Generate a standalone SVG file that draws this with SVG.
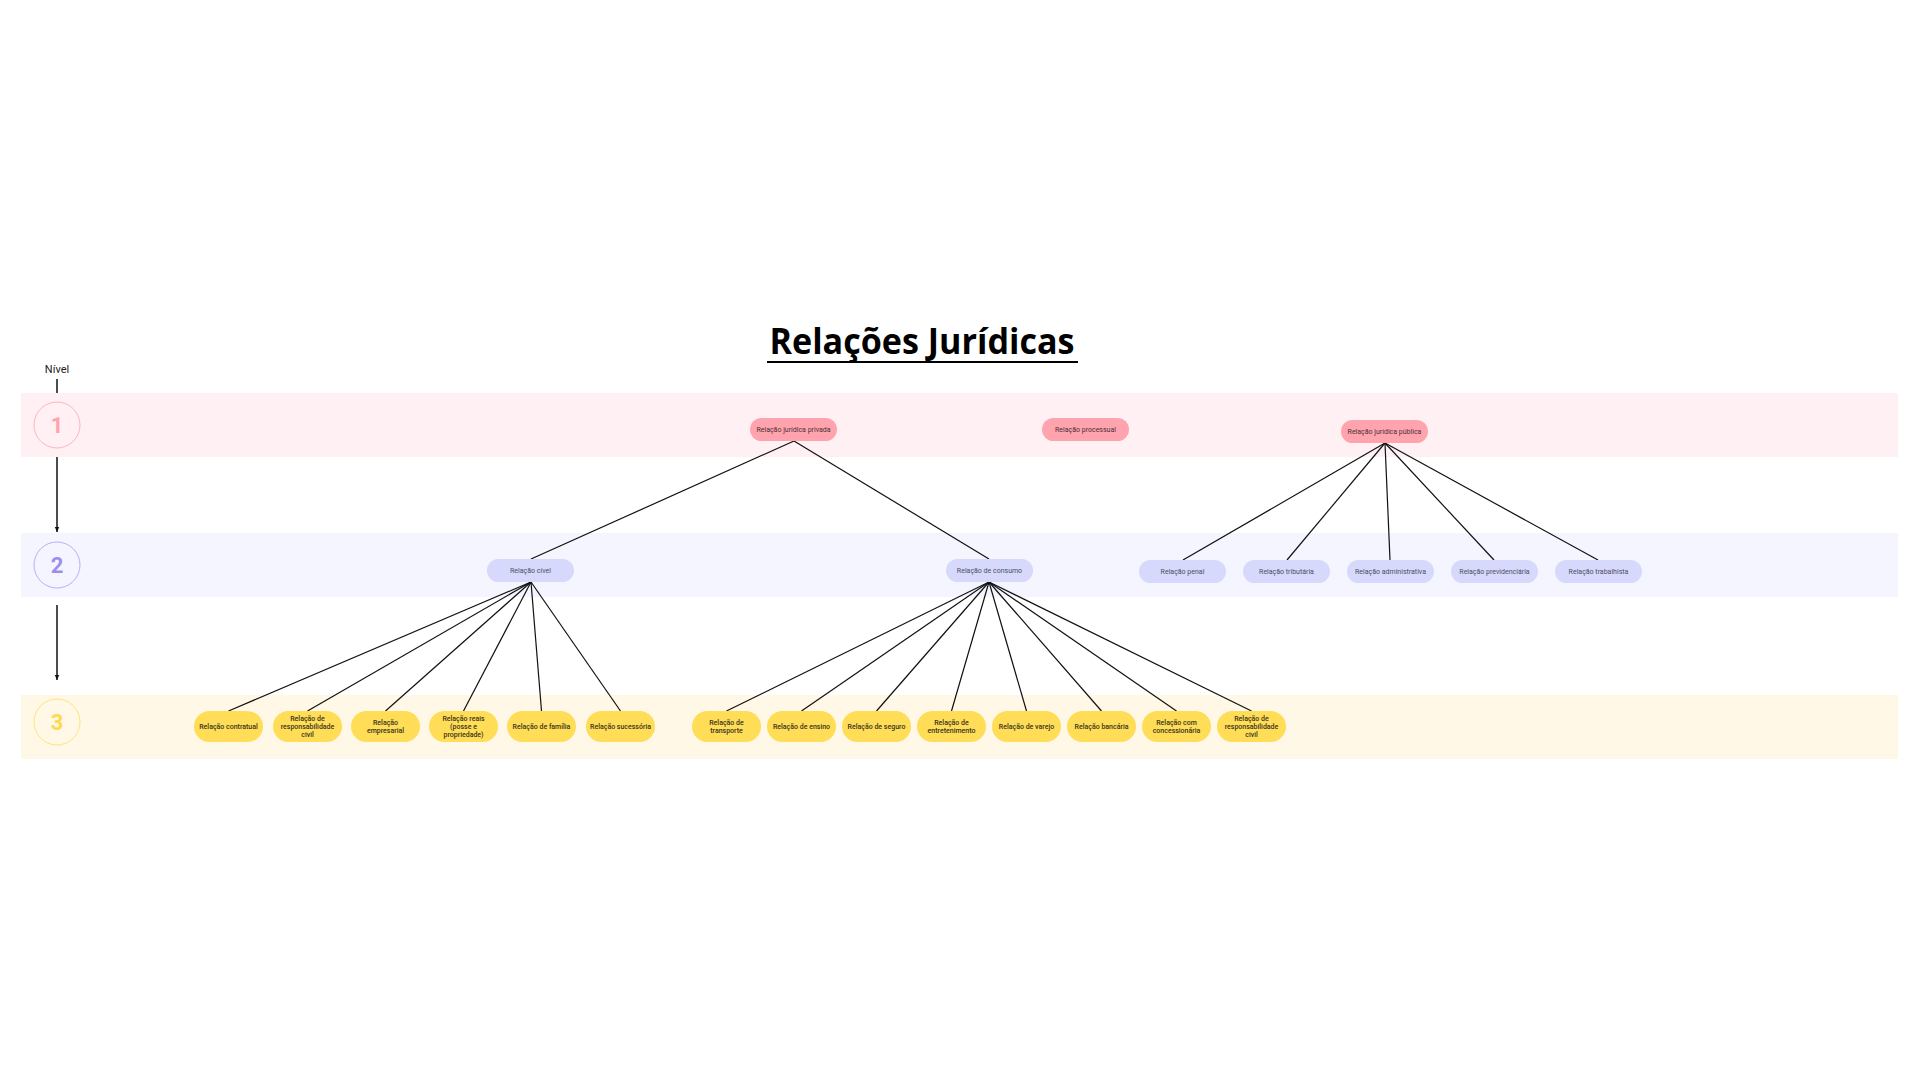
<svg xmlns="http://www.w3.org/2000/svg" width="1920" height="1080" viewBox="0 0 1920 1080">
<defs>
<style>
.band1{fill:#FFF0F3}.band2{fill:#F5F5FF}.band3{fill:#FFF8E6}
.n1 rect{fill:#FFA4AE}.n2 rect{fill:#D6D9FC}.n3 rect{fill:#FFDD57}
.n1 text,.n2 text,.n3 text{font-family:Roboto,"Liberation Sans",sans-serif;font-size:7px;text-anchor:middle}
.n1 text{fill:#4a3034}.n2 text{fill:#4e4e60}.n3 text{fill:#3a331c;font-weight:500}
.num{font-family:Roboto,"Liberation Sans",sans-serif;font-size:22px;font-weight:700;text-anchor:middle}
.conn line{stroke:#111;stroke-width:1.2;fill:none}
.axis{stroke:#111;stroke-width:1.5}
</style>
<marker id="arr" viewBox="0 0 10 10" refX="9" refY="5" markerWidth="4" markerHeight="4" orient="auto" markerUnits="strokeWidth">
<path d="M0,1 L9,5 L0,9 Z" fill="#111"/>
</marker>
</defs>
<rect width="1920" height="1080" fill="#ffffff"/>

<g id="title">
<text x="922" y="354" font-family="'Open Sans','Noto Sans',sans-serif" font-size="36" font-weight="700" text-anchor="middle" fill="#000" textLength="305" lengthAdjust="spacingAndGlyphs">Relações Jurídicas</text>
<line x1="767" y1="362" x2="1078" y2="362" stroke="#000" stroke-width="2"/>
</g>

<g id="bands">
<rect class="band1" x="21" y="393" width="1877" height="64"/>
<rect class="band2" x="21" y="533" width="1877" height="64"/>
<rect class="band3" x="21" y="695" width="1877" height="64"/>
</g>

<g id="levels">
<text x="57" y="373" font-family="Roboto,'Liberation Sans',sans-serif" font-size="11" text-anchor="middle" fill="#222">Nível</text>
<line class="axis" x1="57" y1="379" x2="57" y2="393"/>
<g id="level1">
<circle cx="57" cy="425" r="23" fill="none" stroke="#FFB3BD" stroke-width="1"/>
<text class="num" x="57" y="433" fill="#FFA3AE">1</text>
</g>
<line class="axis" x1="57" y1="457" x2="57" y2="532" marker-end="url(#arr)"/>
<g id="level2">
<circle cx="57" cy="565" r="23" fill="none" stroke="#B8AEF8" stroke-width="1"/>
<text class="num" x="57" y="573" fill="#9D8DF1">2</text>
</g>
<line class="axis" x1="57" y1="605" x2="57" y2="680" marker-end="url(#arr)"/>
<g id="level3">
<circle cx="57" cy="722" r="23" fill="none" stroke="#FFE37A" stroke-width="1"/>
<text class="num" x="57" y="730" fill="#FFD84D">3</text>
</g>
</g>

<g id="connectors" class="conn">
<line x1="794" y1="441" x2="531" y2="559"/>
<line x1="794" y1="441" x2="989" y2="559"/>
<line x1="1385" y1="443" x2="1183" y2="560"/>
<line x1="1385" y1="443" x2="1287" y2="560"/>
<line x1="1385" y1="443" x2="1390" y2="560"/>
<line x1="1385" y1="443" x2="1494" y2="560"/>
<line x1="1385" y1="443" x2="1598" y2="560"/>
<line x1="531" y1="582" x2="228.5" y2="711"/>
<line x1="531" y1="582" x2="307.5" y2="711"/>
<line x1="531" y1="582" x2="385.5" y2="711"/>
<line x1="531" y1="582" x2="463.5" y2="711"/>
<line x1="531" y1="582" x2="541.5" y2="711"/>
<line x1="531" y1="582" x2="620.5" y2="711"/>
<line x1="989" y1="582" x2="726.5" y2="711"/>
<line x1="989" y1="582" x2="801.5" y2="711"/>
<line x1="989" y1="582" x2="876.5" y2="711"/>
<line x1="989" y1="582" x2="951.5" y2="711"/>
<line x1="989" y1="582" x2="1026.5" y2="711"/>
<line x1="989" y1="582" x2="1101.5" y2="711"/>
<line x1="989" y1="582" x2="1176.5" y2="711"/>
<line x1="989" y1="582" x2="1251.5" y2="711"/>
</g>

<g id="n-privada" class="n1"><rect x="750" y="418" width="87" height="23" rx="11.5"/><text x="793.5" y="432">Relação jurídica privada</text></g>
<g id="n-processual" class="n1"><rect x="1042" y="418" width="87" height="23" rx="11.5"/><text x="1085.5" y="432">Relação processual</text></g>
<g id="n-publica" class="n1"><rect x="1341" y="420" width="87" height="23" rx="11.5"/><text x="1384.5" y="434">Relação jurídica pública</text></g>

<g id="n-civel" class="n2"><rect x="487" y="559" width="87" height="23" rx="11.5"/><text x="530.5" y="573">Relação cível</text></g>
<g id="n-consumo" class="n2"><rect x="946" y="559" width="87" height="23" rx="11.5"/><text x="989.5" y="573">Relação de consumo</text></g>
<g id="n-penal" class="n2"><rect x="1139" y="560" width="87" height="23" rx="11.5"/><text x="1182.5" y="574">Relação penal</text></g>
<g id="n-tributaria" class="n2"><rect x="1243" y="560" width="87" height="23" rx="11.5"/><text x="1286.5" y="574">Relação tributária</text></g>
<g id="n-administrativa" class="n2"><rect x="1347" y="560" width="87" height="23" rx="11.5"/><text x="1390.5" y="574">Relação administrativa</text></g>
<g id="n-previdenciaria" class="n2"><rect x="1451" y="560" width="87" height="23" rx="11.5"/><text x="1494.5" y="574">Relação previdenciária</text></g>
<g id="n-trabalhista" class="n2"><rect x="1555" y="560" width="87" height="23" rx="11.5"/><text x="1598.5" y="574">Relação trabalhista</text></g>

<g id="n-contratual" class="n3"><rect x="194" y="711" width="69" height="31" rx="15.5"/><text x="228.5" y="729">Relação contratual</text></g>
<g id="n-respcivil1" class="n3"><rect x="273" y="711" width="69" height="31" rx="15.5"/><text x="307.5" y="721.4">Relação de</text><text x="307.5" y="729.2">responsabilidade</text><text x="307.5" y="736.9">civil</text></g>
<g id="n-empresarial" class="n3"><rect x="351" y="711" width="69" height="31" rx="15.5"/><text x="385.5" y="725.2">Relação</text><text x="385.5" y="733.2">empresarial</text></g>
<g id="n-reais" class="n3"><rect x="429" y="711" width="69" height="31" rx="15.5"/><text x="463.5" y="721.4">Relação reais</text><text x="463.5" y="729.2">(posse e</text><text x="463.5" y="736.9">propriedade)</text></g>
<g id="n-familia" class="n3"><rect x="507" y="711" width="69" height="31" rx="15.5"/><text x="541.5" y="729">Relação de família</text></g>
<g id="n-sucessoria" class="n3"><rect x="586" y="711" width="69" height="31" rx="15.5"/><text x="620.5" y="729">Relação sucessória</text></g>

<g id="n-transporte" class="n3"><rect x="692" y="711" width="69" height="31" rx="15.5"/><text x="726.5" y="725.2">Relação de</text><text x="726.5" y="733.2">transporte</text></g>
<g id="n-ensino" class="n3"><rect x="767" y="711" width="69" height="31" rx="15.5"/><text x="801.5" y="729">Relação de ensino</text></g>
<g id="n-seguro" class="n3"><rect x="842" y="711" width="69" height="31" rx="15.5"/><text x="876.5" y="729">Relação de seguro</text></g>
<g id="n-entretenimento" class="n3"><rect x="917" y="711" width="69" height="31" rx="15.5"/><text x="951.5" y="725.2">Relação de</text><text x="951.5" y="733.2">entretenimento</text></g>
<g id="n-varejo" class="n3"><rect x="992" y="711" width="69" height="31" rx="15.5"/><text x="1026.5" y="729">Relação de varejo</text></g>
<g id="n-bancaria" class="n3"><rect x="1067" y="711" width="69" height="31" rx="15.5"/><text x="1101.5" y="729">Relação bancária</text></g>
<g id="n-concessionaria" class="n3"><rect x="1142" y="711" width="69" height="31" rx="15.5"/><text x="1176.5" y="725.2">Relação com</text><text x="1176.5" y="733.2">concessionária</text></g>
<g id="n-respcivil2" class="n3"><rect x="1217" y="711" width="69" height="31" rx="15.5"/><text x="1251.5" y="721.4">Relação de</text><text x="1251.5" y="729.2">responsabilidade</text><text x="1251.5" y="736.9">civil</text></g>
</svg>
